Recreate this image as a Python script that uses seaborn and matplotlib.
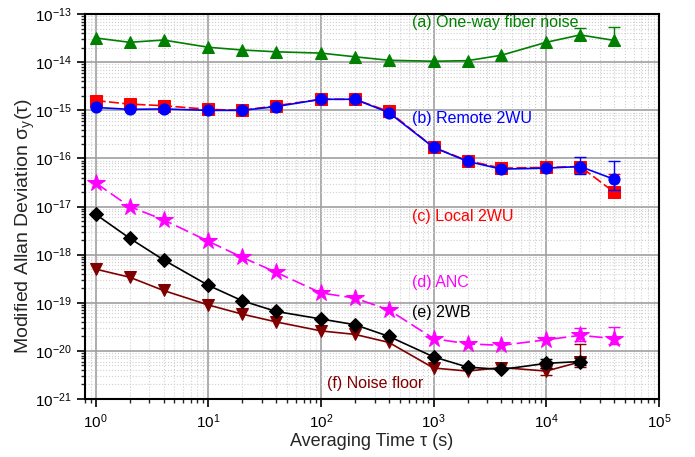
import numpy as np
import pandas as pd
import matplotlib
matplotlib.use("Agg")
import matplotlib.pyplot as plt
import seaborn as sns
from matplotlib.ticker import LogLocator, NullFormatter

# averaging times (s)
tau = [1, 2, 4, 10, 20, 40, 100, 200, 400, 1000, 2000, 4000, 10000, 20000, 40000]

# modified Allan deviation of each measurement
oneway = [3.2e-14, 2.6e-14, 2.9e-14, 2.05e-14, 1.8e-14, 1.65e-14, 1.55e-14, 1.3e-14,
          1.1e-14, 1.05e-14, 1.08e-14, 1.4e-14, 2.6e-14, 3.7e-14, 2.85e-14]
remote = [1.15e-15, 1.05e-15, 1.07e-15, 1.0e-15, 1.0e-15, 1.2e-15, 1.7e-15, 1.7e-15,
          9.0e-16, 1.7e-16, 8.7e-17, 6.0e-17, 6.3e-17, 6.8e-17, 3.7e-17]
local = [1.6e-15, 1.35e-15, 1.25e-15, 1.05e-15, 1.0e-15, 1.25e-15, 1.7e-15, 1.7e-15,
         9.5e-16, 1.7e-16, 9.0e-17, 6.3e-17, 6.5e-17, 6.8e-17, 2.0e-17]
anc = [3.1e-17, 1.0e-17, 5.3e-18, 1.9e-18, 8.8e-19, 4.3e-19, 1.6e-19, 1.25e-19,
       7.1e-20, 1.8e-20, 1.4e-20, 1.3e-20, 1.7e-20, 2.1e-20, 1.8e-20]
twb = [6.9e-18, 2.2e-18, 7.8e-19, 2.3e-19, 1.1e-19, 6.6e-20, 4.6e-20, 3.5e-20,
       2.0e-20, 7.5e-21, 4.6e-21, 4.1e-21, 5.5e-21, 6.0e-21]
floor_ = [5.0e-19, 3.4e-19, 1.8e-19, 9.0e-20, 5.8e-20, 4.0e-20, 2.6e-20, 2.2e-20,
          1.5e-20, 4.4e-21, 3.8e-21, 4.5e-21, 3.8e-21, 5.9e-21]

# error bars: tau, lower bound, upper bound
oneway_err = [(20000, 2.9e-14, 5.1e-14), (40000, 2.3e-14, 5.4e-14)]
remote_err = [(20000, 4.8e-17, 1.07e-16), (40000, 2.2e-17, 8.7e-17)]
local_err = [(40000, 1.6e-17, 4.7e-17)]
anc_err = [(20000, 1.6e-20, 3.0e-20), (40000, 1.4e-20, 3.2e-20)]
twb_err = [(10000, 4.5e-21, 6.9e-21), (20000, 5.0e-21, 7.0e-21)]
floor_err = [(10000, 3.2e-21, 4.5e-21), (20000, 4.6e-21, 1.4e-20)]

labels = ["(a) One-way fiber noise", "(b) Remote 2WU", "(c) Local 2WU",
          "(d) ANC", "(e) 2WB", "(f) Noise floor"]

sns.set_style("white")
plt.rcParams['font.family'] = ['Liberation Sans', 'DejaVu Sans']
plt.rcParams['mathtext.fontset'] = 'custom'
plt.rcParams['mathtext.rm'] = 'Liberation Sans'
plt.rcParams['mathtext.it'] = 'Liberation Sans'
plt.rcParams['axes.unicode_minus'] = False

fig = plt.figure(figsize=(6.95, 4.57), dpi=100)
ax = fig.add_axes([0.122, 0.127, 0.826, 0.842])

series = [
    (oneway, oneway_err, "#008000", "^", (None, None), 2),
    (local, local_err, "#ff0000", "s", (6, 2), 3),
    (remote, remote_err, "#0000ff", "o", (None, None), 4),
    (anc, anc_err, "#ff00ff", "*", (8, 3), 3),
    (twb, twb_err, "#000000", "D", (None, None), 4),
    (floor_, floor_err, "#800000", "v", (None, None), 3),
]
msize = {"^": 9, "s": 9, "o": 8, "*": 13, "D": 7.5, "v": 8.5}

for vals, errs, col, mk, dash, z in series:
    df = pd.DataFrame({"tau": tau[:len(vals)], "adev": vals})
    ls = "-" if dash[0] is None else (0, dash)
    sns.lineplot(data=df, x="tau", y="adev", ax=ax, color=col, marker=mk,
                 markersize=msize[mk], markeredgecolor=col, linewidth=1.2,
                 linestyle=ls, zorder=z, legend=False)
    for t, lo, hi in errs:
        v = vals[tau.index(t)]
        ax.errorbar([t], [v], yerr=[[v - lo], [hi - v]], color=col, capsize=4,
                    elinewidth=1, capthick=1, fmt="none", zorder=z)

ax.set_xscale("log")
ax.set_yscale("log")
ax.set_xlim(0.8, 1e5)
ax.set_ylim(1e-21, 1e-13)

ax.xaxis.set_major_locator(LogLocator(base=10, numticks=10))
ax.xaxis.set_minor_locator(LogLocator(base=10, subs=np.arange(2, 10), numticks=10))
ax.yaxis.set_major_locator(LogLocator(base=10, numticks=12))
ax.yaxis.set_minor_locator(LogLocator(base=10, subs=np.arange(2, 10), numticks=12))
ax.xaxis.set_minor_formatter(NullFormatter())
ax.yaxis.set_minor_formatter(NullFormatter())

ax.grid(True, which="major", color="#a0a0a0", linewidth=1.2)
ax.grid(True, which="minor", color="#d0d0d0", linestyle=":", linewidth=0.8)
ax.set_axisbelow(True)

ax.tick_params(which="major", direction="out", length=6, width=1.2, labelsize=11,
               bottom=True, left=True, top=False, right=False, colors="black")
ax.tick_params(which="minor", direction="out", length=3, width=1,
               bottom=True, left=True, top=False, right=False)
for sp in ax.spines.values():
    sp.set_color("black")
    sp.set_linewidth(1.5)

ax.set_xlabel("Averaging Time τ (s)", fontsize=13, va="top")
ax.set_ylabel(r"$\mathregular{Modified\ Allan\ Deviation\ \sigma_y(\tau)}$",
              fontsize=14, va="center")
ax.xaxis.set_label_coords(0.5, -0.088)
ax.yaxis.set_label_coords(-0.104, 0.45)

text_pos = [(640, 6.8e-14, "#008000"), (640, 6.9e-16, "#0000ff"),
            (640, 6.3e-18, "#ff0000"), (640, 2.7e-19, "#ff00ff"),
            (640, 6.4e-20, "#000000"), (113, 2.1e-21, "#800000")]
for lab, (x, y, c) in zip(labels, text_pos):
    ax.text(x, y, lab, color=c, fontsize=11.5, va="center", ha="left")

fig.savefig("out.png", dpi=100)
